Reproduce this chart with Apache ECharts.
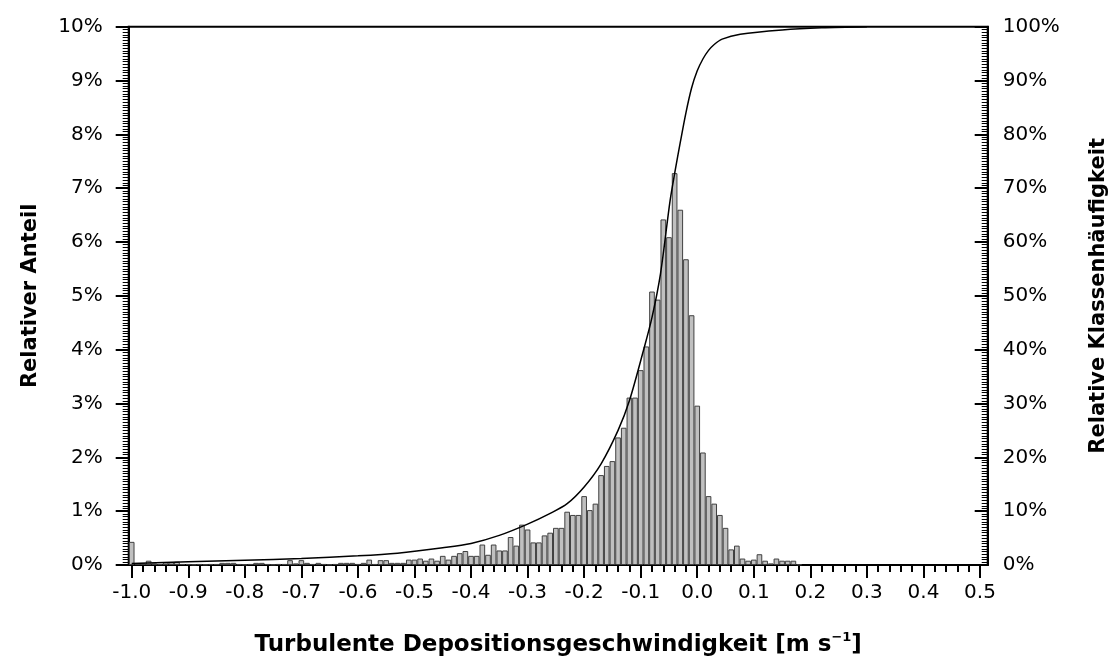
<!DOCTYPE html>
<html>
<head>
<meta charset="utf-8">
<script src="https://cdn.jsdelivr.net/npm/echarts@6/dist/echarts.min.js"></script>
<style>
html, body { margin: 0; padding: 0; background: #fff; }
#chart { width: 1117px; height: 664px; }
</style>
</head>
<body>
<div id="chart"></div>
<script>
// histogram classes: centre of first class and class width
var binStart = -1.0;
var binStep = 0.01;

// relative share per class in % (left axis), classes -1.00 ... 0.18
var share = [
  0.43, 0.02, 0.03, 0.08, 0.03, 0.02, 0.05, 0.05, 0.06, 0.02,
  0.02, 0.01, 0.02, 0.01, 0.02, 0.02, 0.04, 0.04, 0.04, 0.02,
  0.01, 0.02, 0.04, 0.04, 0.02, 0.01, 0.02, 0.02, 0.09, 0.03,
  0.09, 0.04, 0.02, 0.04, 0.02, 0.01, 0.02, 0.04, 0.04, 0.04,
  0.02, 0.04, 0.10, 0.02, 0.09, 0.09, 0.04, 0.04, 0.04, 0.10,
  0.10, 0.12, 0.08, 0.12, 0.08, 0.17, 0.10, 0.17, 0.22, 0.26,
  0.17, 0.17, 0.38, 0.19, 0.38, 0.27, 0.27, 0.52, 0.36, 0.75,
  0.66, 0.42, 0.42, 0.55, 0.60, 0.69, 0.69, 0.99, 0.93, 0.93,
  1.28, 1.02, 1.14, 1.67, 1.84, 1.93, 2.37, 2.55, 3.11, 3.11,
  3.62, 4.06, 5.08, 4.93, 6.42, 6.09, 7.28, 6.60, 5.68, 4.64,
  2.96, 2.09, 1.28, 1.14, 0.93, 0.69, 0.29, 0.36, 0.12, 0.08,
  0.10, 0.20, 0.08, 0.03, 0.12, 0.08, 0.08, 0.08, 0.01
];

// cumulative curve (right axis, %)
var cumX = [-1.0, -0.9, -0.8, -0.7, -0.6, -0.53, -0.45, -0.4, -0.35, -0.3,
  -0.26, -0.23, -0.2, -0.17, -0.14, -0.12, -0.095, -0.08, -0.065, -0.048,
  -0.039, -0.03, -0.02, -0.01, 0.0, 0.01, 0.02, 0.03, 0.044, 0.076, 0.15, 0.22, 0.3];
var cumY = [0.3, 0.6, 0.9, 1.2, 1.7, 2.2, 3.2, 4.0, 5.5, 7.6,
  9.6, 11.4, 14.5, 18.8, 25.0, 30.5, 39.9, 46.0, 54.1, 67.7,
  73.3, 78.5, 84.0, 88.6, 91.8, 94.0, 95.6, 96.7, 97.7, 98.6, 99.4, 99.8, 100];

// x tick labels
var xLabels = [-1.0, -0.9, -0.8, -0.7, -0.6, -0.5, -0.4, -0.3, -0.2, -0.1,
  0.0, 0.1, 0.2, 0.3, 0.4, 0.5];

var barData = [];
for (var i = 0; i < share.length; i++) {
  barData.push([+(binStart + i * binStep).toFixed(2), share[i]]);
}
var lineData = [];
for (var j = 0; j < cumX.length; j++) {
  lineData.push([cumX[j], cumY[j]]);
}
var minorX = [];
for (var k = 0; k <= 75; k++) {
  minorX.push(+(-1 + k * 0.02).toFixed(2));
}

var font = 'DejaVu Sans';
var black = '#000';

var chart = echarts.init(document.getElementById('chart'));
var option = {
  animation: false,
  grid: {
    left: 128.7, right: 129.3, top: 26.7, bottom: 99,
    show: true, borderColor: black, borderWidth: 2, backgroundColor: 'transparent'
  },
  xAxis: [
    {
      type: 'value',
      min: -1.0053, max: 0.5136,
      position: 'bottom',
      axisLine: { show: true, onZero: false, lineStyle: { color: black, width: 2 } },
      axisTick: { show: true, customValues: xLabels, length: 13, lineStyle: { color: black, width: 2 } },
      axisLabel: {
        customValues: xLabels, margin: 18,
        formatter: function (v) { return v.toFixed(1); },
        color: black, fontFamily: font, fontSize: 20
      },
      splitLine: { show: false },
      name: 'Turbulente Depositionsgeschwindigkeit [m s{sup|\u22121}]',
      nameLocation: 'middle',
      nameGap: 66,
      nameTextStyle: {
        color: black, fontFamily: font, fontSize: 23, fontWeight: 'bold', lineHeight: 28,
        rich: {
          sup: { fontFamily: font, fontSize: 13, fontWeight: 'bold', color: black, verticalAlign: 'top', lineHeight: 11 }
        }
      }
    },
    {
      type: 'value',
      min: -1.0053, max: 0.5136,
      position: 'bottom',
      offset: 0,
      axisLine: { show: false, onZero: false },
      axisTick: { show: true, customValues: minorX, length: 7, lineStyle: { color: black, width: 2 } },
      axisLabel: { show: false },
      splitLine: { show: false }
    }
  ],
  yAxis: [
    {
      type: 'value',
      position: 'left',
      min: 0, max: 10, interval: 1,
      axisLine: { show: true, onZero: false, lineStyle: { color: black, width: 2 } },
      axisTick: { show: true, length: 13, lineStyle: { color: black, width: 2 } },
      minorTick: { show: true, splitNumber: 20, length: 6, lineStyle: { color: black, width: 1 } },
      axisLabel: { formatter: '{value}%', margin: 26, color: black, fontFamily: font, fontSize: 20 },
      splitLine: { show: false },
      name: 'Relativer Anteil',
      nameLocation: 'middle',
      nameRotate: 90,
      nameGap: 88,
      nameTextStyle: { color: black, fontFamily: font, fontSize: 21, fontWeight: 'bold' }
    },
    {
      type: 'value',
      position: 'right',
      min: 0, max: 100, interval: 10,
      axisLine: { show: true, onZero: false, lineStyle: { color: black, width: 2 } },
      axisTick: { show: true, inside: true, length: 13, lineStyle: { color: black, width: 2 } },
      minorTick: { show: true, splitNumber: 20, length: 6, lineStyle: { color: black, width: 1 } },
      axisLabel: { formatter: '{value}%', margin: 15, color: black, fontFamily: font, fontSize: 20 },
      splitLine: { show: false },
      name: 'Relative Klassenh\u00e4ufigkeit',
      nameLocation: 'middle',
      nameRotate: 90,
      nameGap: 100,
      nameTextStyle: { color: black, fontFamily: font, fontSize: 21, fontWeight: 'bold' }
    }
  ],
  series: [
    {
      name: 'Relativer Anteil',
      type: 'bar',
      xAxisIndex: 0,
      yAxisIndex: 0,
      barWidth: 5.65,
      clip: false,
      itemStyle: { color: '#c0c0c0', borderColor: '#404040', borderWidth: 1 },
      data: barData
    },
    {
      name: 'Relative Klassenh\u00e4ufigkeit',
      type: 'line',
      xAxisIndex: 0,
      yAxisIndex: 1,
      smooth: 0.3,
      showSymbol: false,
      symbol: 'none',
      lineStyle: { color: black, width: 1.5 },
      data: lineData
    }
  ]
};
chart.setOption(option);
</script>
</body>
</html>
